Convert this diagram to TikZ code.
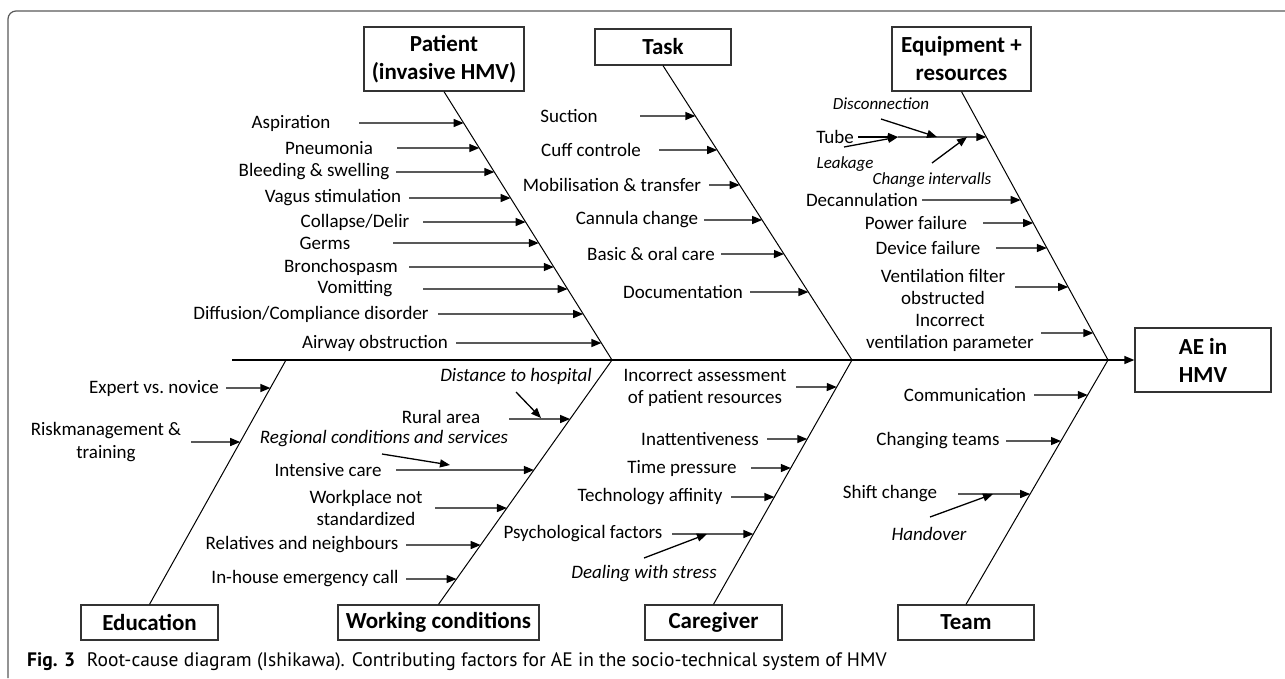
\documentclass[tikz,border=0pt]{standalone}
\usepackage{fontspec}
\setmainfont{Carlito}
\newfontfamily\capfont{PT Sans}
\usetikzlibrary{arrows.meta}

\begin{document}
\begin{tikzpicture}[x=1pt, y=-1pt,
    box/.style = {draw=black!80, line width=1.3pt, align=center, inner sep=0pt,
        font=\fontsize{23}{28}\selectfont\bfseries},
    lbl/.style = {align=center, inner sep=0pt, font=\fontsize{19}{22.5}\selectfont},
    sub/.style = {inner sep=0pt, font=\fontsize{19}{22.5}\selectfont\itshape},
    small/.style = {inner sep=0pt, font=\fontsize{17}{20}\selectfont\itshape},
    bone/.style = {line width=1pt},
    arr/.style = {line width=1.3pt, -{Triangle[length=10pt,width=8pt]}}]

    \useasboundingbox (0,0) rectangle (1285,678);
    \draw[black!65, line width=1.2pt, rounded corners=8pt] (8,678) -- (8,11) -- (1285,11);

    \node[box, minimum width=160pt, minimum height=64pt] (P) at (444,59) {Patient\\(invasive HMV)};
    \node[box, minimum width=136pt, minimum height=36pt] (T) at (663,47) {Task};
    \node[box, minimum width=139pt, minimum height=64pt] (E) at (961.5,59) {Equipment +\\resources};
    \node[box, minimum width=136pt, minimum height=64pt] (AE) at (1203,360) {AE in\\HMV};
    \node[box, minimum width=137pt, minimum height=35pt] (Ed) at (149.5,622.5) {Education};
    \node[box, minimum width=201pt, minimum height=35pt] (W) at (438.5,622.5) {Working conditions};
    \node[box, minimum width=137pt, minimum height=35pt] (C) at (713.5,622.5) {Caregiver};
    \node[box, minimum width=136pt, minimum height=35pt] (Tm) at (966,622.5) {Team};

    \coordinate (s) at (232,360);
    \coordinate (j0) at (286,360);
    \coordinate (j1) at (612,360);
    \coordinate (j2) at (852,360);
    \coordinate (j3) at (1108,360);

    \draw[arr] (s) -- (AE.west);
    \draw[bone] (P.south) -- (j1);
    \draw[bone] (T.south) -- (j2);
    \draw[bone] (E.south) -- (j3);
    \draw[bone] (Ed.north) -- (j0);
    \draw[bone] (W.north) -- (j1);
    \draw[bone] (C.north) -- (j2);
    \draw[bone] (Tm.north) -- (j3);

    \node[lbl] (asp) at (291,123) {Aspiration};
    \coordinate (asp1) at (359,123);
    \coordinate (asp2) at (intersection of P.south--j1 and 0,123--1,123);
    \draw[arr] (asp1) -- (asp2);
    \node[lbl] (pne) at (329,148) {Pneumonia};
    \coordinate (pne1) at (397,148);
    \coordinate (pne2) at (intersection of P.south--j1 and 0,148--1,148);
    \draw[arr] (pne1) -- (pne2);
    \node[lbl] (ble) at (314,172) {Bleeding \& swelling};
    \coordinate (ble1) at (396,172);
    \coordinate (ble2) at (intersection of P.south--j1 and 0,172--1,172);
    \draw[arr] (ble1) -- (ble2);
    \node[lbl] (vag) at (333,198) {Vagus stimulation};
    \coordinate (vag1) at (409,198);
    \coordinate (vag2) at (intersection of P.south--j1 and 0,198--1,198);
    \draw[arr] (vag1) -- (vag2);
    \node[lbl] (col) at (355,222) {Collapse/Delir};
    \coordinate (col1) at (423,222);
    \coordinate (col2) at (intersection of P.south--j1 and 0,222--1,222);
    \draw[arr] (col1) -- (col2);
    \node[lbl] (ger) at (325,243) {Germs};
    \coordinate (ger1) at (393,243);
    \coordinate (ger2) at (intersection of P.south--j1 and 0,243--1,243);
    \draw[arr] (ger1) -- (ger2);
    \node[lbl] (bro) at (341,267) {Bronchospasm};
    \coordinate (bro1) at (409,267);
    \coordinate (bro2) at (intersection of P.south--j1 and 0,267--1,267);
    \draw[arr] (bro1) -- (bro2);
    \node[lbl] (vom) at (355,289) {Vomitting};
    \coordinate (vom1) at (423,289);
    \coordinate (vom2) at (intersection of P.south--j1 and 0,289--1,289);
    \draw[arr] (vom1) -- (vom2);
    \node[lbl] (dif) at (311,314) {Diffusion/Compliance disorder};
    \coordinate (dif1) at (438,314);
    \coordinate (dif2) at (intersection of P.south--j1 and 0,314--1,314);
    \draw[arr] (dif1) -- (dif2);
    \node[lbl] (air) at (375,343) {Airway obstruction};
    \coordinate (air1) at (456,343);
    \coordinate (air2) at (intersection of P.south--j1 and 0,343--1,343);
    \draw[arr] (air1) -- (air2);

    \node[lbl] (suc) at (569,116) {Suction};
    \coordinate (suc1) at (640,116);
    \coordinate (suc2) at (intersection of T.south--j2 and 0,116--1,116);
    \draw[arr] (suc1) -- (suc2);
    \node[lbl] (cuf) at (591,150) {Cuff controle};
    \coordinate (cuf1) at (659,150);
    \coordinate (cuf2) at (intersection of T.south--j2 and 0,150--1,150);
    \draw[arr] (cuf1) -- (cuf2);
    \node[lbl] (mob) at (612,185) {Mobilisation \& transfer};
    \coordinate (mob1) at (709,185);
    \coordinate (mob2) at (intersection of T.south--j2 and 0,185--1,185);
    \draw[arr] (mob1) -- (mob2);
    \node[lbl] (can) at (637,220) {Cannula change};
    \coordinate (can1) at (704,220);
    \coordinate (can2) at (intersection of T.south--j2 and 0,220--1,220);
    \draw[arr] (can1) -- (can2);
    \node[lbl] (bas) at (651,254) {Basic \& oral care};
    \coordinate (bas1) at (721,254);
    \coordinate (bas2) at (intersection of T.south--j2 and 0,254--1,254);
    \draw[arr] (bas1) -- (bas2);
    \node[lbl] (doc) at (683,292) {Documentation};
    \coordinate (doc1) at (750,292);
    \coordinate (doc2) at (intersection of T.south--j2 and 0,292--1,292);
    \draw[arr] (doc1) -- (doc2);

    \node[lbl] (tub) at (835,137) {Tube};
    \coordinate (tub1) at (858,137);
    \coordinate (tub2) at (898,137);
    \coordinate (tub3) at (intersection of E.south--j3 and 0,137--1,137);
    \draw[arr] (tub1) -- (tub2);
    \draw[arr] (tub2) -- (tub3);
    \node[small] (dis) at (881,104) {Disconnection};
    \coordinate (dis1) at (881,119);
    \coordinate (dis2) at (937,137);
    \draw[arr] (dis1) -- (dis2);
    \node[small] (lea) at (845,164) {Leakage};
    \coordinate (lea1) at (844,147);
    \draw[arr] (lea1) -- (tub2);
    \node[small] (chg) at (932,180) {Change intervalls};
    \coordinate (chg1) at (932,163);
    \coordinate (chg2) at (967,137);
    \draw[arr] (chg1) -- (chg2);
    \node[lbl] (dec) at (862,200) {Decannulation};
    \coordinate (dec1) at (922,200);
    \coordinate (dec2) at (intersection of E.south--j3 and 0,200--1,200);
    \draw[arr] (dec1) -- (dec2);
    \node[lbl] (pow) at (916,223) {Power failure};
    \coordinate (pow1) at (983,223);
    \coordinate (pow2) at (intersection of E.south--j3 and 0,223--1,223);
    \draw[arr] (pow1) -- (pow2);
    \node[lbl] (dev) at (928,248) {Device failure};
    \coordinate (dev1) at (996,248);
    \coordinate (dev2) at (intersection of E.south--j3 and 0,248--1,248);
    \draw[arr] (dev1) -- (dev2);
    \node[lbl] (fil) at (943,287) {Ventilation filter\\obstructed};
    \coordinate (fil1) at (1015,287);
    \coordinate (fil2) at (intersection of E.south--j3 and 0,287--1,287);
    \draw[arr] (fil1) -- (fil2);
    \node[lbl] (par) at (950,333) {Incorrect\\ventilation parameter};
    \coordinate (par1) at (1041,333);
    \coordinate (par2) at (intersection of E.south--j3 and 0,333--1,333);
    \draw[arr] (par1) -- (par2);

    \node[lbl] (exp) at (154,388) {Expert vs.\ novice};
    \coordinate (exp1) at (226,388);
    \coordinate (exp2) at (intersection of Ed.north--j0 and 0,388--1,388);
    \draw[arr] (exp1) -- (exp2);
    \node[lbl] (ris) at (106,442) {Riskmanagement \&\\training};
    \coordinate (ris1) at (191,442);
    \coordinate (ris2) at (intersection of Ed.north--j0 and 0,442--1,442);
    \draw[arr] (ris1) -- (ris2);

    \node[sub] (dst) at (516,376) {Distance to hospital};
    \node[lbl] (rur) at (441,417) {Rural area};
    \coordinate (rur1) at (509,419);
    \coordinate (rur2) at (intersection of W.north--j1 and 0,419--1,419);
    \draw[arr] (rur1) -- (rur2);
    \coordinate (dst1) at (516,392);
    \coordinate (dst2) at (541,418);
    \draw[arr] (dst1) -- (dst2);
    \node[sub] (reg) at (384,439) {Regional conditions and services};
    \node[lbl] (int) at (328,470) {Intensive care};
    \coordinate (int1) at (396,470);
    \coordinate (int2) at (intersection of W.north--j1 and 0,470--1,470);
    \draw[arr] (int1) -- (int2);
    \coordinate (reg1) at (382,454);
    \coordinate (reg2) at (450,465);
    \draw[arr] (reg1) -- (reg2);
    \node[lbl] (wor) at (366,508) {Workplace not\\standardized};
    \coordinate (wor1) at (435,508);
    \coordinate (wor2) at (intersection of W.north--j1 and 0,508--1,508);
    \draw[arr] (wor1) -- (wor2);
    \node[lbl] (rel) at (302,545) {Relatives and neighbours};
    \coordinate (rel1) at (406,545);
    \coordinate (rel2) at (intersection of W.north--j1 and 0,545--1,545);
    \draw[arr] (rel1) -- (rel2);
    \node[lbl] (inh) at (305,579) {In-house emergency call};
    \coordinate (inh1) at (406,579);
    \coordinate (inh2) at (intersection of W.north--j1 and 0,579--1,579);
    \draw[arr] (inh1) -- (inh2);

    \node[lbl] (ass) at (705,388) {Incorrect assessment\\of patient resources};
    \coordinate (ass1) at (796,387);
    \coordinate (ass2) at (intersection of C.north--j2 and 0,387--1,387);
    \draw[arr] (ass1) -- (ass2);
    \node[lbl] (ina) at (700,439) {Inattentiveness};
    \coordinate (ina1) at (767,439);
    \coordinate (ina2) at (intersection of C.north--j2 and 0,439--1,439);
    \draw[arr] (ina1) -- (ina2);
    \node[lbl] (tim) at (682,468) {Time pressure};
    \coordinate (tim1) at (751,468);
    \coordinate (tim2) at (intersection of C.north--j2 and 0,468--1,468);
    \draw[arr] (tim1) -- (tim2);
    \node[lbl] (tec) at (650,497) {Technology affinity};
    \coordinate (tec1) at (731,497);
    \coordinate (tec2) at (intersection of C.north--j2 and 0,497--1,497);
    \draw[arr] (tec1) -- (tec2);
    \node[lbl] (psy) at (583,534) {Psychological factors};
    \coordinate (psy1) at (672,534);
    \coordinate (psy2) at (intersection of C.north--j2 and 0,534--1,534);
    \draw[arr] (psy1) -- (psy2);
    \node[sub] (stre) at (644,574) {Dealing with stress};
    \coordinate (str1) at (644,558);
    \coordinate (str2) at (707,534);
    \draw[arr] (str1) -- (str2);

    \node[lbl] (com) at (965,395) {Communication};
    \coordinate (com1) at (1034,395);
    \coordinate (com2) at (intersection of Tm.north--j3 and 0,395--1,395);
    \draw[arr] (com1) -- (com2);
    \node[lbl] (cha) at (938,441) {Changing teams};
    \coordinate (cha1) at (1006,441);
    \coordinate (cha2) at (intersection of Tm.north--j3 and 0,441--1,441);
    \draw[arr] (cha1) -- (cha2);
    \node[lbl] (shi) at (890,494) {Shift change};
    \coordinate (shi1) at (958,494);
    \coordinate (shi2) at (intersection of Tm.north--j3 and 0,494--1,494);
    \draw[arr] (shi1) -- (shi2);
    \node[sub] (han) at (929,534) {Handover};
    \coordinate (han1) at (930,517);
    \coordinate (han2) at (993,494);
    \draw[arr] (han1) -- (han2);

    \node[anchor=west, inner sep=0pt, font=\capfont\fontsize{19.5}{22}\selectfont] (cap) at (27,662)
        {\textbf{Fig. 3}\hspace{0.6em}Root-cause diagram (Ishikawa). Contributing factors for AE in the socio-technical system of HMV};
\end{tikzpicture}
\end{document}
